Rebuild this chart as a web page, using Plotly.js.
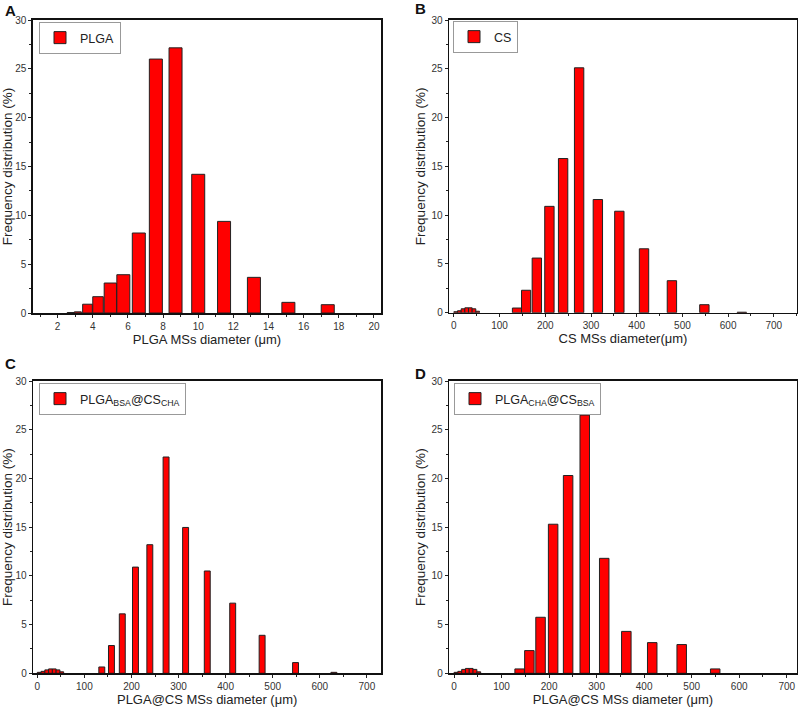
<!DOCTYPE html>
<html>
<head>
<meta charset="utf-8">
<script src="https://cdn.plot.ly/plotly-3.0.1.min.js"></script>
<style>
html,body{margin:0;padding:0;background:#fff;}
#chart{width:800px;height:713px;}
</style>
</head>
<body>
<div id="chart"></div>
<script>
// ---- Data ----
const plgaDiam = [2.75, 3.15, 3.7, 4.3, 5.0, 5.74, 6.62, 7.59, 8.71, 10.0, 11.47, 13.17, 15.13, 17.37];
const plgaFreq = [0.05, 0.12, 0.9, 1.67, 3.07, 3.92, 8.19, 26.0, 27.15, 14.2, 9.38, 3.65, 1.09, 0.85];

const csDiam = [4, 12, 20, 28, 36, 44, 52, 138, 158, 181.5, 209, 239, 274, 315, 362, 416, 477, 548, 630];
const csFreq = [0.1, 0.2, 0.4, 0.5, 0.5, 0.4, 0.15, 0.48, 2.3, 5.6, 10.9, 15.8, 25.1, 11.6, 10.4, 6.55, 3.28, 0.82, 0.05];

const bsaChaDiam = [4, 12, 20, 28, 36, 44, 52, 137, 157.5, 180.5, 208.5, 239, 273.5, 315, 361, 415, 477.5, 548.5, 630];
const bsaChaFreq = [0.1, 0.2, 0.35, 0.45, 0.45, 0.35, 0.15, 0.65, 2.85, 6.1, 10.9, 13.2, 22.2, 14.97, 10.5, 7.2, 3.9, 1.1, 0.1];

const chaBsaDiam = [4, 12, 20, 28, 36, 44, 52, 138, 158.5, 182, 208.5, 240, 275, 316, 362.5, 417, 479, 549.5];
const chaBsaFreq = [0.1, 0.2, 0.4, 0.5, 0.5, 0.4, 0.15, 0.45, 2.33, 5.75, 15.3, 20.3, 26.5, 11.8, 4.3, 3.15, 2.95, 0.45];

const seriesNames = ['PLGA', 'CS', 'PLGA<sub>BSA</sub>@CS<sub>CHA</sub>', 'PLGA<sub>CHA</sub>@CS<sub>BSA</sub>'];
const xTitles = ['PLGA MSs diameter (μm)', 'CS MSs diameter(μm)', 'PLGA@CS MSs diameter (μm)', 'PLGA@CS MSs diameter (μm)'];
const yTitle = 'Frequency distribution (%)';
const panelLetters = ['A', 'B', 'C', 'D'];

// ---- Styling ----
const FONT = 'Arial, "Liberation Sans", Helvetica, sans-serif';
const maxWidths = [0.74, 20.5, 12.6, 20];

function barWidths(xs, maxW) {
  return xs.map((x, i) => {
    let nn = Infinity;
    if (i > 0) nn = Math.min(nn, x - xs[i - 1]);
    if (i < xs.length - 1) nn = Math.min(nn, xs[i + 1] - x);
    return Math.min(maxW, nn);
  });
}

const allX = [plgaDiam, csDiam, bsaChaDiam, chaBsaDiam];
const allY = [plgaFreq, csFreq, bsaChaFreq, chaBsaFreq];

const traces = allX.map((xs, i) => ({
  type: 'bar',
  x: xs,
  y: allY[i],
  width: barWidths(xs, maxWidths[i]),
  name: seriesNames[i],
  xaxis: i === 0 ? 'x' : 'x' + (i + 1),
  yaxis: i === 0 ? 'y' : 'y' + (i + 1),
  legend: i === 0 ? 'legend' : 'legend' + (i + 1),
  marker: {color: '#ff0000', line: {color: '#222', width: 1}},
  showlegend: true
}));

// panel geometry (pixels -> paper)
const W = 800, H = 713;
const px = v => v / W;
const py = v => (H - v) / H;
const panels = [
  {l: 33, r: 381, t: 20, b: 313, xr: [0.6, 20.4], dt: 2, minor: 1},
  {l: 449.3, r: 796.7, t: 20, b: 312.7, xr: [-10, 750], dt: 100, minor: 50},
  {l: 33.3, r: 381, t: 381, b: 673.3, xr: [-8.5, 730], dt: 100, minor: 50},
  {l: 449.3, r: 796.7, t: 381, b: 673.3, xr: [-10, 721], dt: 100, minor: 50}
];
const legendPos = [[39, 22], [453, 21], [39, 383], [454, 383]];
const letterPos = [[3, 10], [413, 8], [3, 363], [413, 373]];

const layout = {
  width: W, height: H,
  margin: {l: 0, r: 0, t: 0, b: 0},
  paper_bgcolor: '#fff',
  plot_bgcolor: '#fff',
  font: {family: FONT, size: 10, color: '#222'},
  showlegend: true,
  annotations: []
};

panels.forEach((p, i) => {
  const s = i === 0 ? '' : String(i + 1);
  layout['xaxis' + s] = {
    domain: [px(p.l), px(p.r)],
    anchor: 'y' + s,
    range: p.xr,
    dtick: p.dt, tick0: 0,
    ticks: 'outside', ticklen: 3, tickwidth: 1, tickcolor: '#222',
    minor: {ticks: 'outside', ticklen: 2, dtick: p.minor, tickcolor: '#222'},
    showline: true, linecolor: '#111', linewidth: 1.6, mirror: true,
    showgrid: false, zeroline: false,
    tickfont: {family: FONT, size: 10, color: '#333'},
    title: {text: xTitles[i], font: {family: FONT, size: 13, color: '#222'}, standoff: 3},
    fixedrange: true
  };
  layout['yaxis' + s] = {
    domain: [py(p.b), py(p.t)],
    anchor: 'x' + s,
    range: [0, 30],
    dtick: 5, tick0: 0,
    ticks: 'outside', ticklen: 3, tickwidth: 1, tickcolor: '#222',
    minor: {ticks: 'outside', ticklen: 2, dtick: 2.5, tickcolor: '#222'},
    showline: true, linecolor: '#111', linewidth: 1.6, mirror: true,
    showgrid: false, zeroline: false,
    tickfont: {family: FONT, size: 10, color: '#333'},
    title: {text: yTitle, font: {family: FONT, size: 13.5, color: '#222'}, standoff: 3},
    fixedrange: true
  };
  const lg = i === 0 ? 'legend' : 'legend' + (i + 1);
  layout[lg] = {
    x: px(legendPos[i][0]), y: py(legendPos[i][1]),
    xanchor: 'left', yanchor: 'top',
    xref: 'paper', yref: 'paper',
    bgcolor: '#fff', bordercolor: '#999', borderwidth: 1,
    font: {family: FONT, size: 12.5, color: '#222'},
    itemwidth: 30,
    tracegroupgap: 0
  };
  layout.annotations.push({
    text: '<b>' + panelLetters[i] + '</b>',
    xref: 'paper', yref: 'paper',
    x: px(letterPos[i][0]), y: py(letterPos[i][1]),
    xanchor: 'left', yanchor: 'middle',
    showarrow: false,
    font: {family: FONT, size: 15, color: '#111'}
  });
});

Plotly.newPlot('chart', traces, layout, {displayModeBar: false, staticPlot: true});
</script>
</body>
</html>
